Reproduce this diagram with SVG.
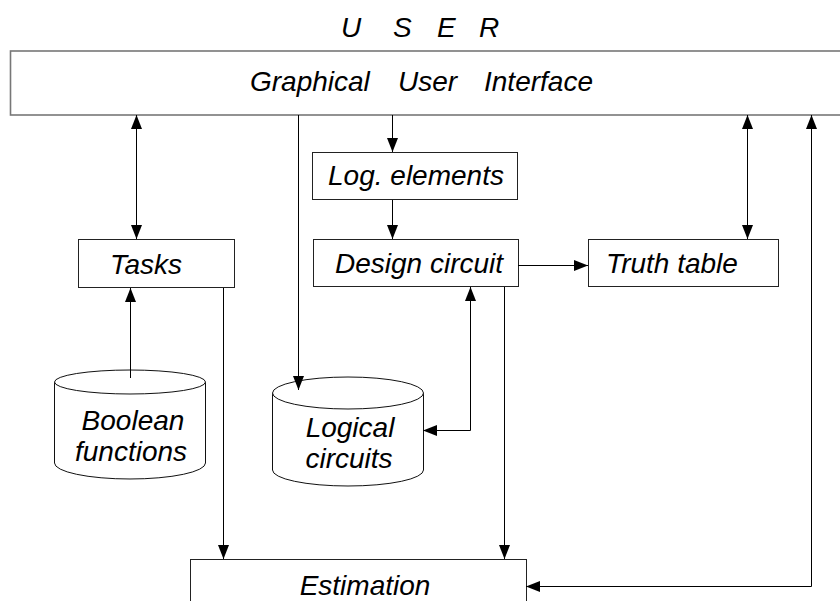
<svg xmlns="http://www.w3.org/2000/svg" width="840" height="601" viewBox="0 0 840 601">
  <style>
    .box { fill: #ffffff; stroke: #222222; stroke-width: 1; }
    .gui { fill: #ffffff; stroke: #777777; stroke-width: 1.6; }
    .cyl { fill: #ffffff; stroke: #111111; stroke-width: 1; }
    .lbl { font-family: "Liberation Sans", Arial, sans-serif; font-style: italic; font-size: 28px; fill: #000000; }
    .mid { text-anchor: middle; }
    .wire { fill: none; stroke: #000000; stroke-width: 1; }
  </style>
  <defs>
    <marker id="arr" markerUnits="userSpaceOnUse" markerWidth="14" markerHeight="11" refX="14" refY="5.5" orient="auto-start-reverse">
      <path d="M0,0 L14,5.5 L0,11 z" fill="#000000"/>
    </marker>
  </defs>

  <rect width="840" height="601" fill="#ffffff"/>

  <g id="user">
    <text class="lbl" x="341 393 437 479" y="37">USER</text>
  </g>

  <g id="gui">
    <rect class="gui" x="10.5" y="51" width="840" height="64"/>
    <text class="lbl" y="91"><tspan x="250">Graphical</tspan><tspan x="398">User</tspan><tspan x="484">Interface</tspan></text>
  </g>

  <g id="log-elements">
    <rect class="box" x="312.5" y="152.5" width="205" height="47"/>
    <text class="lbl mid" x="416" y="185">Log. elements</text>
  </g>

  <g id="tasks">
    <rect class="box" x="78.5" y="239.5" width="156" height="48"/>
    <text class="lbl mid" x="146" y="274">Tasks</text>
  </g>

  <g id="design-circuit">
    <rect class="box" x="313.5" y="239.5" width="205" height="47"/>
    <text class="lbl mid" x="419" y="273">Design circuit</text>
  </g>

  <g id="truth-table">
    <rect class="box" x="588.5" y="239.5" width="190" height="47"/>
    <text class="lbl mid" x="672" y="273">Truth table</text>
  </g>

  <g id="boolean-functions">
    <path class="cyl" d="M54.5,382 V463 A75.5,16 0 0 0 205.5,463 V382"/>
    <ellipse class="cyl" cx="130" cy="382" rx="75.5" ry="12"/>
    <text class="lbl mid" x="133" y="430">Boolean</text>
    <text class="lbl mid" x="131" y="461">functions</text>
  </g>

  <g id="logical-circuits">
    <path class="cyl" d="M272.5,393 V470 A75.5,16 0 0 0 423.5,470 V393"/>
    <ellipse class="cyl" cx="348" cy="393" rx="75.5" ry="16"/>
    <text class="lbl mid" x="350" y="437">Logical</text>
    <text class="lbl mid" x="349" y="468">circuits</text>
  </g>

  <g id="estimation">
    <rect class="box" x="190.5" y="559.5" width="336" height="60"/>
    <text class="lbl mid" x="365" y="595">Estimation</text>
  </g>

  <g id="connectors">
    <path class="wire" d="M136.5,115 V239" marker-start="url(#arr)" marker-end="url(#arr)"/>
    <path class="wire" d="M298.5,115 V390" marker-end="url(#arr)"/>
    <path class="wire" d="M392.5,115 V152" marker-end="url(#arr)"/>
    <path class="wire" d="M392.5,200 V239" marker-end="url(#arr)"/>
    <path class="wire" d="M518,265.5 H588" marker-end="url(#arr)"/>
    <path class="wire" d="M747.5,115 V239" marker-start="url(#arr)" marker-end="url(#arr)"/>
    <path class="wire" d="M526,586.5 H811.5 V115" marker-start="url(#arr)" marker-end="url(#arr)"/>
    <path class="wire" d="M130.5,378 V288" marker-end="url(#arr)"/>
    <path class="wire" d="M223.5,288 V559" marker-end="url(#arr)"/>
    <path class="wire" d="M470.5,287 V430.5 H423" marker-start="url(#arr)" marker-end="url(#arr)"/>
    <path class="wire" d="M504.5,287 V559" marker-end="url(#arr)"/>
  </g>
</svg>
